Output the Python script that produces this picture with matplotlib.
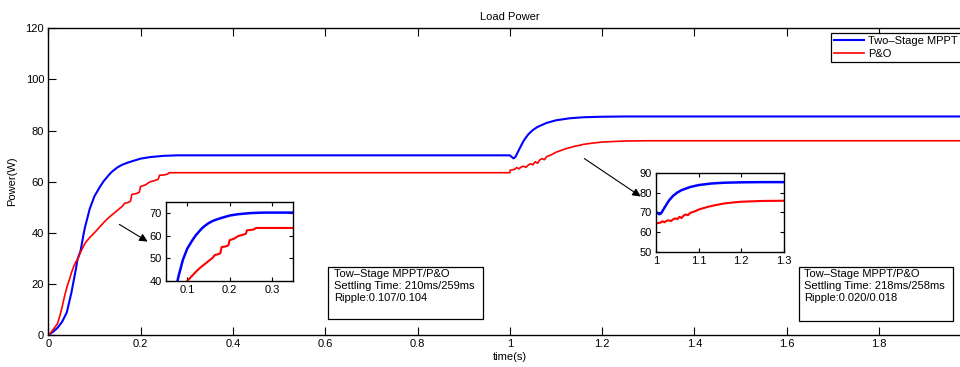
import matplotlib
matplotlib.use("Agg")
import matplotlib.pyplot as plt
from matplotlib.patches import Rectangle

plt.rcParams['font.family'] = ['Liberation Sans', 'DejaVu Sans']
plt.rcParams['font.size'] = 8

# two-stage MPPT load power (W) vs time (s)
t_two = [0, 0.01, 0.02, 0.03, 0.04, 0.05, 0.06, 0.063, 0.07, 0.077, 0.08, 0.09,
         0.10, 0.112, 0.12, 0.134, 0.14, 0.15, 0.16, 0.17, 0.18, 0.20, 0.22, 0.25,
         0.28, 0.32, 1.0, 1.004, 1.008, 1.012, 1.02, 1.03, 1.04, 1.05, 1.06, 1.08,
         1.10, 1.13, 1.16, 1.20, 1.25, 2.0]
p_two = [0, 1.2, 2.8, 5.2, 8.8, 16.5, 26, 29.4, 33, 40, 42.5, 49.5,
         54.3, 58, 60.2, 63.2, 64.2, 65.6, 66.6, 67.3, 67.9, 69.0, 69.6, 70.1,
         70.3, 70.3, 70.3, 69.7, 69.1, 69.6, 72.5, 76, 78.5, 80.2, 81.4, 83,
         84, 84.8, 85.2, 85.4, 85.5, 85.5]

# P&O load power (W) vs time (s)
t_po = [0, 0.005, 0.01, 0.015, 0.02, 0.025, 0.03, 0.035, 0.04, 0.043, 0.046,
        0.05, 0.055, 0.06, 0.063, 0.07, 0.08, 0.09, 0.10, 0.11, 0.12, 0.13, 0.14,
        0.15, 0.16, 0.165, 0.172, 0.178, 0.181, 0.19, 0.197, 0.20, 0.21, 0.22,
        0.23, 0.238, 0.241, 0.25, 0.258, 0.262, 0.27, 1.0, 1.001, 1.01, 1.015,
        1.02, 1.025, 1.03, 1.035, 1.04, 1.045, 1.05, 1.055, 1.06, 1.065, 1.07,
        1.075, 1.08, 1.09, 1.10, 1.12, 1.14, 1.16, 1.18, 1.20, 1.25, 1.30, 2.0]
p_po = [0, 0.8, 2.0, 3.2, 4.5, 7.5, 11, 15, 18.5, 20.3, 21.8,
        24.3, 26.8, 28.7, 29.4, 32.5, 36, 38.2, 40, 42, 44, 45.8, 47.3,
        48.8, 50.3, 51.5, 51.8, 52.3, 55.0, 55.3, 55.8, 58.1, 58.7, 59.9,
        60.4, 60.9, 62.5, 62.6, 62.9, 63.5, 63.5, 63.5, 64.5, 64.8, 65.5,
        65.0, 65.8, 66.0, 65.6, 66.5, 67.0, 66.6, 67.8, 67.2, 68.5, 69.0,
        68.6, 69.8, 70.5, 71.5, 72.8, 73.8, 74.6, 75.1, 75.5, 75.9, 76.0, 76.0]

x_ticks = [0, 0.2, 0.4, 0.6, 0.8, 1.0, 1.2, 1.4, 1.6, 1.8]
x_labels = ['0', '0.2', '0.4', '0.6', '0.8', '1', '1.2', '1.4', '1.6', '1.8']
y_ticks = [0, 20, 40, 60, 80, 100, 120]

in1_xticks = [0.1, 0.2, 0.3]
in1_yticks = [40, 50, 60, 70]
in2_xticks = [1.0, 1.1, 1.2, 1.3]
in2_xlabels = ['1', '1.1', '1.2', '1.3']
in2_yticks = [50, 60, 70, 80, 90]

series_names = ['Two\u2013Stage MPPT', 'P&O']
box1_text = 'Tow\u2013Stage MPPT/P&O\nSettling Time: 210ms/259ms\nRipple:0.107/0.104'
box2_text = 'Tow\u2013Stage MPPT/P&O\nSettling Time: 218ms/258ms\nRipple:0.020/0.018'

W, H = 960, 367
fig = plt.figure(figsize=(W / 100, H / 100), dpi=100)


def fx(px):
    return px / W


def fy(py):
    return 1 - py / H


def style(ax, ticklen):
    ax.tick_params(direction='in', top=True, right=True, length=ticklen,
                   width=0.8, labelsize=8, pad=3)
    for s in ax.spines.values():
        s.set_linewidth(1.0)


ax = fig.add_axes([fx(48.3), fy(335), fx(923), 306.7 / H])
ax.plot(t_two, p_two, color='#0000ff', lw=1.5, label=series_names[0])
ax.plot(t_po, p_po, color='#ff0000', lw=1.2, label=series_names[1])
ax.set_xlim(0, 2)
ax.set_ylim(0, 120)
ax.set_xticks(x_ticks)
ax.set_xticklabels(x_labels)
ax.set_yticks(y_ticks)
style(ax, 6)
ax.set_title('Load Power', fontsize=8, pad=6)
ax.set_xlabel('time(s)', fontsize=8, labelpad=2)
ax.set_ylabel('Power(W)', fontsize=8)
ax.yaxis.set_label_coords(-0.034, 0.5)

leg = ax.legend(loc='upper left', bbox_to_anchor=(fx(831), fy(33)),
                bbox_transform=fig.transFigure, borderaxespad=0,
                fancybox=False, edgecolor='black', framealpha=1,
                handlelength=2.7, fontsize=8, borderpad=0.3,
                labelspacing=0.2, handletextpad=0.3)
leg.get_frame().set_linewidth(0.9)

# zoom-in on the start-up
in1 = fig.add_axes([fx(166), fy(281), fx(127.3), 79 / H])
in1.plot(t_two, p_two, color='#0000ff', lw=1.8)
in1.plot(t_po, p_po, color='#ff0000', lw=1.5)
in1.set_xlim(0.05, 0.35)
in1.set_ylim(40, 75)
in1.set_xticks(in1_xticks)
in1.set_yticks(in1_yticks)
style(in1, 3)

# zoom-in on the irradiance step
in2 = fig.add_axes([fx(656), fy(251.7), fx(128), 78.4 / H])
in2.plot(t_two, p_two, color='#0000ff', lw=1.8)
in2.plot(t_po, p_po, color='#ff0000', lw=1.5)
in2.set_xlim(1.0, 1.3)
in2.set_ylim(50, 90)
in2.set_xticks(in2_xticks)
in2.set_xticklabels(in2_xlabels)
in2.set_yticks(in2_yticks)
style(in2, 3)

for (x0, y0, x1, y1) in [(117, 223, 150, 243), (582, 157, 643, 198)]:
    fig.add_artist(matplotlib.patches.FancyArrowPatch(
        (fx(x0), fy(y0)), (fx(x1), fy(y1)), transform=fig.transFigure,
        arrowstyle='-|>', mutation_scale=12, lw=0.8, color='black'))

for (bx, by, bw, bh, txt) in [(328.3, 266.7, 155, 52.3, box1_text),
                              (799, 267, 154, 54, box2_text)]:
    fig.add_artist(Rectangle((fx(bx), fy(by + bh)), fx(bw), bh / H,
                             transform=fig.transFigure, facecolor='white',
                             edgecolor='black', lw=0.9))
    fig.text(fx(bx + 5.5), fy(by + 2), txt, ha='left', va='top',
             fontsize=8, linespacing=1.25)

fig.savefig('out.png', dpi=100)
